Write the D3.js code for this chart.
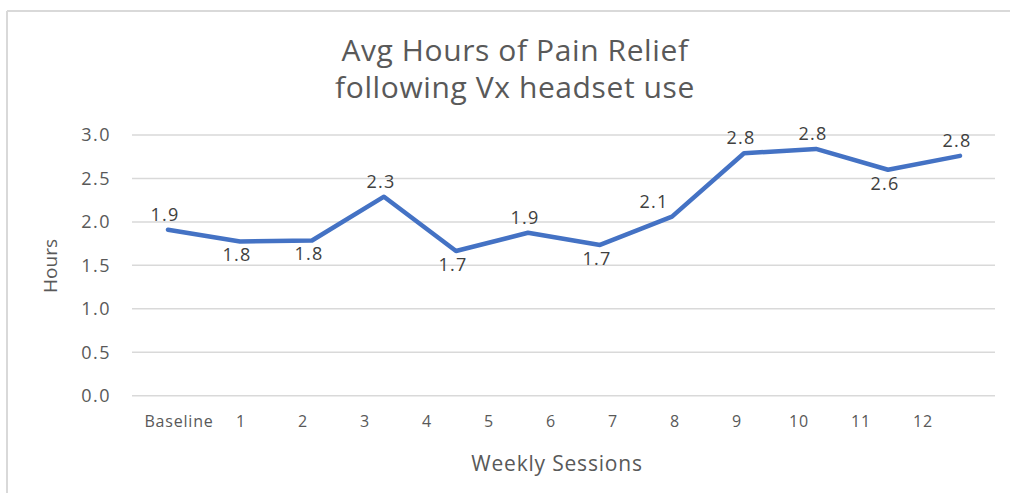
<!DOCTYPE html>
<html>
<head>
<meta charset="utf-8">
<script src="https://cdn.jsdelivr.net/npm/d3@7"></script>
<style>
  html, body { margin: 0; padding: 0; background: #ffffff; }
  svg { display: block; }
</style>
</head>
<body>
<svg id="chart" width="1010" height="493"></svg>
<script>
// ---- data ----
const categories = ["Baseline", "1", "2", "3", "4", "5", "6", "7", "8", "9", "10", "11", "12"];
const values = [1.91, 1.775, 1.786, 2.29, 1.665, 1.875, 1.735, 2.06, 2.79, 2.84, 2.6, 2.76];
const yTicks = [0, 0.5, 1.0, 1.5, 2.0, 2.5, 3.0];
const labelSide = ["above", "below", "below", "above", "below", "above", "below", "above-left", "above", "above", "below", "above"];
const titleLines = ["Avg Hours of Pain Relief", "following Vx headset use"];
const xTitle = "Weekly Sessions";
const yTitle = "Hours";

// ---- drawing ----
const svg = d3.select("#chart");
const textColor = "#595959";
const font = "'Open Sans', 'Noto Sans', sans-serif";

// chart frame (top & left edges visible)
svg.append("line").attr("x1", 7).attr("x2", 1010).attr("y1", 11).attr("y2", 11)
  .attr("stroke", "#d9d9d9").attr("stroke-width", 2);
svg.append("line").attr("x1", 7).attr("x2", 7).attr("y1", 11).attr("y2", 493)
  .attr("stroke", "#d9d9d9").attr("stroke-width", 2);

const plotLeft = 132, plotRight = 995, plotTop = 135, plotBottom = 395.7;

const y = d3.scaleLinear().domain([0, 3]).range([plotBottom, plotTop]);
// data point positions
const pointCats = categories.slice(0, values.length);
const x = d3.scalePoint().domain(pointCats).range([168, 960]);
// category label positions
const xLab = d3.scalePoint().domain(categories).range([179, 923]);

// gridlines
svg.append("g").selectAll("line").data(yTicks).join("line")
  .attr("x1", plotLeft).attr("x2", plotRight)
  .attr("y1", d => y(d)).attr("y2", d => y(d))
  .attr("stroke", "#d9d9d9").attr("stroke-width", 1.5);

// y tick labels
svg.append("g").selectAll("text").data(yTicks).join("text")
  .attr("x", 111).attr("y", d => y(d))
  .attr("dy", "0.35em")
  .attr("text-anchor", "end")
  .attr("fill", textColor)
  .style("font-family", font).style("font-size", "18px")
  .style("letter-spacing", "1.5px")
  .text(d => d3.format(".1f")(d));

// x tick labels
svg.append("g").selectAll("text").data(categories).join("text")
  .attr("x", d => xLab(d)).attr("y", 427)
  .attr("text-anchor", "middle")
  .attr("fill", textColor)
  .style("font-family", font).style("font-size", "16px")
  .style("letter-spacing", "0.8px")
  .text(d => d);

// line
const lineGen = d3.line().x((d, i) => x(pointCats[i])).y(d => y(d));
svg.append("path").datum(values)
  .attr("d", lineGen)
  .attr("fill", "none")
  .attr("stroke", "#4472C4")
  .attr("stroke-width", 4.5)
  .attr("stroke-linejoin", "round")
  .attr("stroke-linecap", "round");

// data labels
svg.append("g").selectAll("text").data(values).join("text")
  .attr("x", (d, i) => x(pointCats[i]) + (labelSide[i] === "above-left" ? -18 : -3))
  .attr("y", (d, i) => y(d) + (labelSide[i] === "below" ? 20 : -9))
  .attr("text-anchor", "middle")
  .attr("fill", "#404040")
  .style("font-family", font).style("font-size", "18px")
  .style("letter-spacing", "1.2px")
  .text(d => d3.format(".1f")(d));

// title
svg.append("g").selectAll("text").data(titleLines).join("text")
  .attr("x", 515).attr("y", (d, i) => 61 + i * 37)
  .attr("text-anchor", "middle")
  .attr("fill", textColor)
  .style("font-family", font).style("font-size", "30px")
  .style("letter-spacing", "0.6px")
  .text(d => d);

// axis titles
svg.append("text")
  .attr("x", 557).attr("y", 471)
  .attr("text-anchor", "middle")
  .attr("fill", textColor)
  .style("font-family", font).style("font-size", "21px")
  .style("letter-spacing", "0.8px")
  .text(xTitle);

svg.append("text")
  .attr("transform", "translate(57,266) rotate(-90)")
  .attr("text-anchor", "middle")
  .attr("fill", textColor)
  .style("font-family", font).style("font-size", "19px")
  .text(yTitle);
</script>
</body>
</html>
